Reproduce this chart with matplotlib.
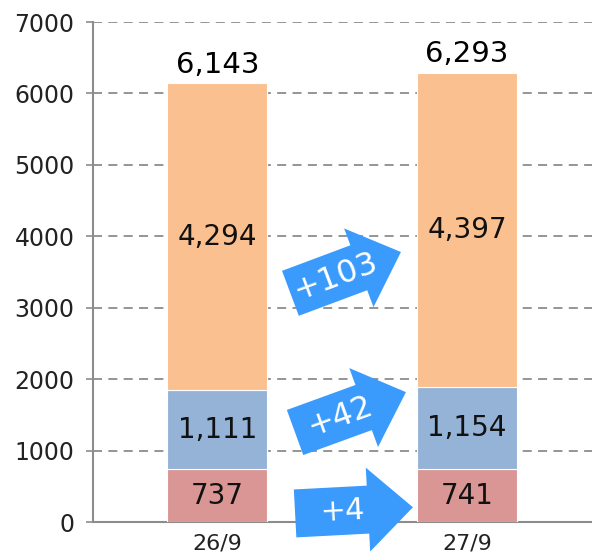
import matplotlib
matplotlib.use("Agg")
import matplotlib.pyplot as plt
import matplotlib.transforms as mtransforms
from matplotlib.patches import Polygon
import numpy as np

# ---- data ----
categories = ["26/9", "27/9"]
bottom_vals = [737, 741]
middle_vals = [1111, 1154]
top_vals = [4294, 4397]
totals = [6143, 6293]
diff_labels = ["+4", "+42", "+103"]
yticks = [0, 1000, 2000, 3000, 4000, 5000, 6000, 7000]

c_bottom = "#D99694"
c_middle = "#95B3D7"
c_top = "#FAC090"
c_arrow = "#3A9BFD"
grid_c = "#8C8C8C"

plt.rcParams["font.family"] = ["DejaVu Sans"]

fig = plt.figure(figsize=(5.92, 5.6), dpi=100)
ax = fig.add_axes([92.5 / 592, 38 / 560, 499.5 / 592, 500 / 560])

x = np.arange(len(categories))
w = 0.4
b1 = np.array(bottom_vals)
b2 = b1 + np.array(middle_vals)

ax.bar(x, bottom_vals, w, color=c_bottom, edgecolor="white", linewidth=0.8, zorder=3)
ax.bar(x, middle_vals, w, bottom=b1, color=c_middle, edgecolor="white", linewidth=0.8, zorder=3)
ax.bar(x, top_vals, w, bottom=b2, color=c_top, edgecolor="white", linewidth=0.8, zorder=3)

lab_fs = 20
for i in range(len(categories)):
    ax.text(x[i], bottom_vals[i] / 2, f"{bottom_vals[i]:,}", ha="center", va="center",
            fontsize=lab_fs, color="#111111", zorder=4)
    ax.text(x[i], b1[i] + middle_vals[i] / 2, f"{middle_vals[i]:,}", ha="center", va="center",
            fontsize=lab_fs, color="#111111", zorder=4)
    ax.text(x[i], b2[i] + top_vals[i] / 2, f"{top_vals[i]:,}", ha="center", va="center",
            fontsize=lab_fs, color="#111111", zorder=4)
    ax.annotate(f"{totals[i]:,}", (x[i], b2[i] + top_vals[i]), xytext=(0, 3),
                textcoords="offset points", ha="center", va="bottom",
                fontsize=21, color="#000000", zorder=4)

ax.set_xlim(-0.5, 1.5)
ax.set_ylim(0, 7000)
ax.set_yticks(yticks)
ax.set_xticks(x)
ax.set_xticklabels(categories)
ax.tick_params(axis="y", length=5, width=1.2, color=grid_c, pad=8, labelsize=17, labelcolor="#222222")
ax.tick_params(axis="x", length=0, pad=8, labelsize=16, labelcolor="#222222")
for s in ["top", "right"]:
    ax.spines[s].set_visible(False)
for s in ["left", "bottom"]:
    ax.spines[s].set_color(grid_c)
    ax.spines[s].set_linewidth(1.5)

for yv in yticks[1:]:
    ax.axhline(yv, color=grid_c, linestyle=(0, (5, 3.5)), linewidth=1.3, zorder=1)

# ---- arrows (pixel geometry, anchored at data points) ----
L, bw, hw, hl = 118, 24, 42, 45
shape = np.array([
    [0, 0], [-hl, hw], [-hl, bw], [-L, bw], [-L, -bw], [-hl, -bw], [-hl, -hw]
])
tip_x = x[1] - w / 2 - 0.02
arrow_specs = [
    (diff_labels[0], tip_x + 0.003, bottom_vals[0] * 0.28, 3, 22),
    (diff_labels[1], tip_x - 0.025, b2[0] - 30, 20, 23),
    (diff_labels[2], tip_x - 0.045, 3780, 20.5, 23),
]
for lab, ax_x, ax_y, ang, fs in arrow_specs:
    tr = mtransforms.Affine2D().rotate_deg(ang) + mtransforms.ScaledTranslation(ax_x, ax_y, ax.transData)
    poly = Polygon(shape, closed=True, facecolor=c_arrow, edgecolor="none", transform=tr, zorder=5,
                   clip_on=False)
    ax.add_patch(poly)
    a = np.deg2rad(ang)
    tx, ty = -70 * np.cos(a), -70 * np.sin(a)
    ttr = mtransforms.Affine2D().translate(tx, ty) + mtransforms.ScaledTranslation(ax_x, ax_y, ax.transData)
    ax.text(0, 0, lab, transform=ttr, rotation=ang, rotation_mode="anchor",
            ha="center", va="center", fontsize=fs, color="white", zorder=6)

fig.savefig("out.png", dpi=100)
